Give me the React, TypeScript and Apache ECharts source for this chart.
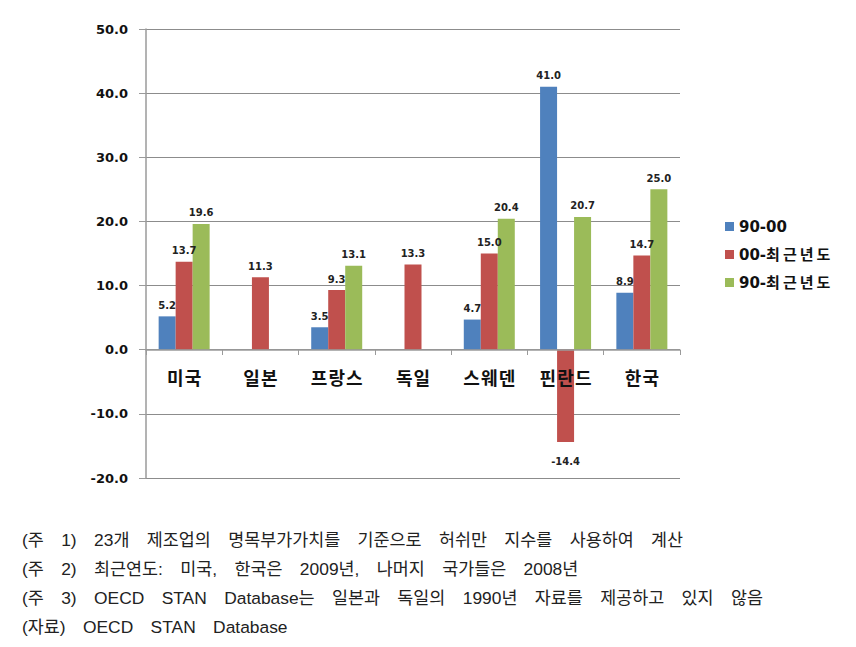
import React, { useEffect, useRef } from "react";
import * as echarts from "echarts";

const categories = ["미국", "일본", "프랑스", "독일", "스웨덴", "핀란드", "한국"];
const seriesNames = ["90-00", "00-최근년도", "90-최근년도"];
const s9000: (number | null)[] = [5.2, null, 3.5, null, 4.7, 41.0, 8.9];
const s00recent: (number | null)[] = [13.7, 11.3, 9.3, 13.3, 15.0, -14.4, 14.7];
const s90recent: (number | null)[] = [19.6, null, 13.1, null, 20.4, 20.7, 25.0];
const colors = ["#4F81BD", "#C0504D", "#9BBB59"];
const notes = [
  "(주 1) 23개 제조업의 명목부가가치를 기준으로 허쉬만 지수를 사용하여 계산",
  "(주 2) 최근연도: 미국, 한국은 2009년, 나머지 국가들은 2008년",
  "(주 3) OECD STAN Database는 일본과 독일의 1990년 자료를 제공하고 있지 않음",
  "(자료) OECD STAN Database",
];

// widen Hangul spacing like the original's Gulim/Dotum rendering
const spreadHangul = (s: string, sp: string) =>
  s.replace(/([\uAC00-\uD7A3])(?=[\uAC00-\uD7A3])/g, "$1" + sp);

export default function App() {
  const ref = useRef<HTMLDivElement>(null);
  useEffect(() => {
    if (!ref.current) return;
    const chart = echarts.init(ref.current, null, { renderer: "svg" });
    const all = [s9000, s00recent, s90recent];
    const series = all.map((arr, i) => ({
      name: seriesNames[i],
      type: "bar",
      barWidth: 17,
      barGap: "0%",
      z: 2,
      itemStyle: { color: colors[i] },
      data: arr.map((v) =>
        v === null
          ? "-"
          : {
              value: v,
              label: { position: v < 0 ? "bottom" : "top", distance: v < 0 ? 14 : 6 },
            }
      ),
      label: {
        show: true,
        formatter: (p: any) => Number(p.value).toFixed(1),
        fontFamily: "DejaVu Sans",
        fontSize: 10,
        fontWeight: "bold",
        color: "#222",
      },
    }));
    chart.setOption({
      animation: false,
      grid: { left: 146, right: 176, top: 29, bottom: 169, containLabel: false },
      legend: {
        orient: "vertical",
        left: 720,
        top: 214,
        itemWidth: 9,
        itemHeight: 9,
        itemGap: 13,
        icon: "rect",
        formatter: (n: string) => spreadHangul(n, "\u2009"),
        textStyle: {
          fontFamily: "DejaVu Sans, Noto Sans CJK KR",
          fontSize: 15,
          fontWeight: "bold",
          color: "#111",
        },
        data: seriesNames,
      },
      xAxis: {
        type: "category",
        data: categories,
        offset: -128,
        z: 10,
        axisLine: { onZero: false, lineStyle: { color: "#9a9a9a", width: 1.5 } },
        axisTick: { show: true, length: 5, lineStyle: { color: "#9a9a9a" } },
        axisLabel: {
          margin: 18,
          formatter: (v: string) => spreadHangul(v, "\u200A"),
          fontFamily: "Noto Sans CJK KR",
          fontSize: 18,
          fontWeight: "bold",
          color: "#111",
        },
      },
      yAxis: {
        type: "value",
        min: -20,
        max: 50,
        interval: 10,
        axisLine: { show: true, lineStyle: { color: "#9a9a9a", width: 1.5 } },
        axisTick: { show: true, length: 7, lineStyle: { color: "#9a9a9a" } },
        splitLine: { show: true, lineStyle: { color: "#8c8c8c", width: 1 } },
        axisLabel: {
          margin: 18,
          formatter: (v: number) => v.toFixed(1),
          fontFamily: "DejaVu Sans",
          fontSize: 13,
          fontWeight: "bold",
          color: "#111",
        },
      },
      series,
      graphic: notes.map((t, i) => ({
        type: "text",
        x: 22,
        y: 540 + i * 29,
        style: {
          text: t.replace(/ /g, "\u2003"),
          fontFamily: "Liberation Sans, Noto Sans CJK KR",
          fontSize: 17.4,
          fill: "#222",
          verticalAlign: "middle",
        },
      })),
    });
    return () => chart.dispose();
  }, []);
  return (
    <div
      ref={ref}
      style={{ position: "fixed", left: 0, top: 0, width: 856, height: 647, background: "#fff" }}
    />
  );
}
